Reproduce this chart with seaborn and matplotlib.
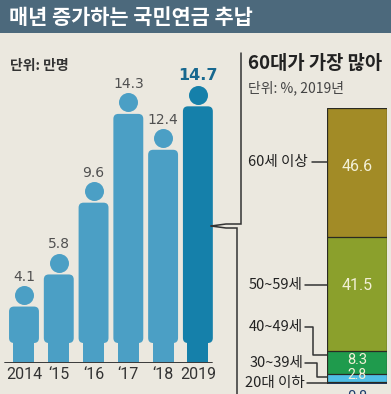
import matplotlib
matplotlib.use("Agg")
import matplotlib.pyplot as plt
import matplotlib.transforms as mtransforms
from matplotlib import font_manager
from matplotlib.patches import FancyBboxPatch, Rectangle
from matplotlib.lines import Line2D
import seaborn as sns
import pandas as pd
import numpy as np

# ---------------- data ----------------
title = "매년 증가하는 국민연금 추납"
left_unit = "단위: 만명"
years = ["2014", "‘15", "‘16", "‘17", "‘18", "2019"]
values = [4.1, 5.8, 9.6, 14.3, 12.4, 14.7]

right_title = "60대가 가장 많아"
right_unit = "단위: %, 2019년"
age_groups = ["60세 이상", "50~59세", "40~49세", "30~39세", "20대 이하"]
shares = [46.6, 41.5, 8.3, 2.8, 0.8]

# ---------------- style ----------------
W, H = 391, 394
BG = "#ebe8df"
BANNER = "#4c697c"
PERSON = "#4b9fc5"
PERSON_HI = "#1580aa"
SEG_COLORS = ["#a28b26", "#8ba02c", "#1f9b4d", "#4fbfe6", "#1d3c6c"]
LABEL_IN = "#f2f0d6"

sns.set_theme(style="white")
plt.rcParams["font.family"] = ["Noto Sans CJK KR", "DejaVu Sans"]


def has_font(name):
    try:
        font_manager.findfont(name, fallback_to_default=False)
        return True
    except Exception:
        return False


NARROW = "Liberation Sans Narrow" if has_font("Liberation Sans Narrow") else "Roboto"
KR = "Noto Sans CJK KR"

fig = plt.figure(figsize=(W / 100, H / 100), dpi=100, facecolor=BG)
# pixel transform (origin top-left)
px = mtransforms.Affine2D().scale(1 / W, -1 / H).translate(0, 1) + fig.transFigure

# banner
fig.patches.append(Rectangle((0, 0), W, 33, transform=px, facecolor=BANNER,
                             edgecolor="none", zorder=0))
fig.text(9, 17, title, transform=px, color="white", fontsize=15,
         fontweight="bold", family=[KR, "DejaVu Sans"], ha="left", va="center")

# ---------------- left: person bars ----------------
base_px, top_px = 363, 40
YMAX = 17.1
PXY = (base_px - top_px) / YMAX            # pixels per y unit
XL0, XL1 = -0.69, 5.78
PXX = 225 / (XL1 - XL0)                    # pixels per x unit

ax1 = fig.add_axes([0, (H - base_px) / H, 225 / W, (base_px - top_px) / H])
ax1.set_facecolor("none")

HEAD_D = 19 / PXY
GAP = 2 / PXY
LEG_H = 20 / PXY
LEG_W = 21 / PXX

df = pd.DataFrame({"year": years, "value": values})
df["body_top"] = df["value"] - HEAD_D - GAP
pal = [PERSON] * (len(years) - 1) + [PERSON_HI]
sns.barplot(data=df, x="year", y="body_top", hue="year", palette=pal,
            legend=False, width=0.86, saturation=1, ax=ax1)

rx = 5 / PXX
ry = 5 / PXY
for patch in list(ax1.patches):
    x0, w, h = patch.get_x(), patch.get_width(), patch.get_height()
    fc = patch.get_facecolor()
    patch.remove()
    xc = x0 + w / 2
    body = FancyBboxPatch((x0, LEG_H), w, h - LEG_H,
                          boxstyle=f"round,pad=0,rounding_size={rx}",
                          mutation_aspect=ry / rx, facecolor=fc,
                          edgecolor="none", zorder=2)
    ax1.add_patch(body)
    ax1.add_patch(Rectangle((xc - LEG_W / 2, 0), LEG_W, LEG_H + ry * 1.5,
                            facecolor=fc, edgecolor="none", zorder=2))

for i, (yr, v) in enumerate(zip(years, values)):
    c = pal[i]
    ax1.scatter([i], [v - HEAD_D / 2], s=(19 * 0.72) ** 2, color=c,
                linewidth=0, zorder=3)
    if i == len(years) - 1:
        ax1.text(i, v + 5 / PXY, f"{v:.1f}", ha="center", va="baseline",
                 fontsize=11.5, fontweight="bold", color="#17688f",
                 family="DejaVu Sans")
    else:
        ax1.text(i, v + 5 / PXY, f"{v:.1f}", ha="center", va="baseline",
                 fontsize=10, color="#505050", family="DejaVu Sans")

ax1.set_xlim(XL0, XL1)
ax1.set_ylim(0, YMAX)
ax1.axhline(0, xmin=5 / 225, xmax=212 / 225, color="#3a3a3a", lw=1.4, zorder=4)
for s in ax1.spines.values():
    s.set_visible(False)
ax1.set_yticks([])
ax1.set_xlabel("")
ax1.set_ylabel("")
ax1.set_xticks(range(len(years)))
ax1.set_xticklabels(years, family=[NARROW, "DejaVu Sans"], fontsize=11.5,
                    color="#333333")
ax1.tick_params(axis="x", length=0, pad=3)

fig.text(10, 66, left_unit, transform=px, fontsize=10, fontweight="bold",
         color="#333333", family=[KR], ha="left", va="center")

# bracket
br = dict(color="#333333", lw=1.1, transform=px, solid_joinstyle="miter")
fig.lines.append(Line2D([241, 241, 226, 211], [53, 224, 224, 226], **br))
fig.lines.append(Line2D([211, 226, 237, 237], [226, 228, 228, 396], **br))

# ---------------- right: stacked share bar ----------------
bar_top, bar_bot = 108, 384
ax2 = fig.add_axes([327 / W, (H - bar_bot) / H, 60 / W, (bar_bot - bar_top) / H])
ax2.set_facecolor("none")

order = list(range(len(shares)))[::-1]          # bottom -> top
cum_top = {}
run = 0.0
for i in order:
    run += shares[i]
    cum_top[i] = run

for i in range(len(shares)):                    # draw tallest first
    sns.barplot(x=["2019"], y=[cum_top[i]], color=SEG_COLORS[i], width=1,
                saturation=1, edgecolor="#2a2a22", linewidth=0.9, ax=ax2)
ax2.set_xlim(-0.5, 0.5)
ax2.set_ylim(0, 100)
ax2.axis("off")

in_offsets = [2.0, 3.0, 0.8, 1.0, 0.0]
in_sizes = [11.5, 11.5, 10.5, 10.0, 10.5]
for i, v in enumerate(shares):
    mid = cum_top[i] - v / 2 + in_offsets[i]
    if i == len(shares) - 1:
        ax2.text(0, -4.6, f"{v}", ha="center", va="center", fontsize=in_sizes[i],
                 color="#1d3c6c", family=["Roboto", "DejaVu Sans"],
                 clip_on=False)
    else:
        ax2.text(0, mid, f"{v}", ha="center", va="center", fontsize=in_sizes[i],
                 color=LABEL_IN, family=["Roboto", "DejaVu Sans"])

fig.text(248, 63, right_title, transform=px, fontsize=13.5, fontweight="bold",
         color="#222222", family=[KR], ha="left", va="center")
fig.text(248, 88, right_unit, transform=px, fontsize=10, color="#444444",
         family=[KR], ha="left", va="center")

# side labels & connectors (pixel layout)
lab_y = [162, 285, 327, 363, 383]
lab_x = [308, 303, 303, 303, 305]
conn = [
    ([312, 327], [162, 162]),
    ([305, 327], [285, 285]),
    ([305, 313, 313, 327], [327, 327, 355, 355]),
    ([305, 317, 317, 327], [363, 363, 377, 377]),
    ([307, 327], [383, 383]),
]
for i, g in enumerate(age_groups):
    fig.text(lab_x[i], lab_y[i], g, transform=px, fontsize=10.5,
             color="#222222", family=[KR], ha="right", va="center")
    xs, ys = conn[i]
    fig.lines.append(Line2D(xs, ys, color="#333333", lw=1.1, transform=px))

fig.savefig("out.png", dpi=100, facecolor=BG)
